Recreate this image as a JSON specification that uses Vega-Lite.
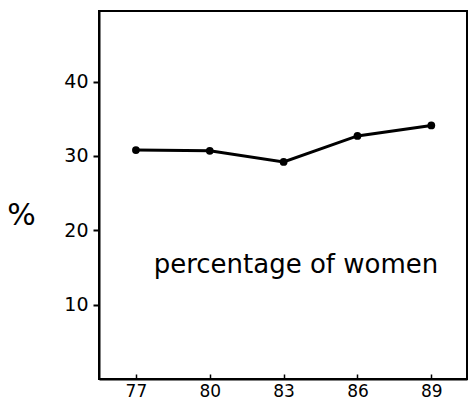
{
  "$schema": "https://vega.github.io/schema/vega-lite/v6.json",
  "width": 368,
  "height": 368,
  "autosize": {"type": "none"},
  "padding": {"left": 99, "top": 11, "right": 4, "bottom": 35},
  "background": "white",
  "config": {
    "view": {"stroke": "black", "strokeWidth": 2},
    "font": "DejaVu Sans"
  },
  "datasets": {
    "women": [
      {"year": 77, "pct": 30.8},
      {"year": 80, "pct": 30.7},
      {"year": 83, "pct": 29.2},
      {"year": 86, "pct": 32.7},
      {"year": 89, "pct": 34.1}
    ],
    "label": [
      {"year": 83.5, "pct": 15.4, "text": "percentage of women"}
    ]
  },
  "layer": [
    {
      "data": {"name": "women"},
      "mark": {"type": "line", "color": "black", "strokeWidth": 3, "point": {"filled": true, "color": "black", "size": 60}},
      "encoding": {
        "x": {
          "field": "year", "type": "quantitative",
          "scale": {"domain": [75.5, 90.45], "nice": false, "zero": false},
          "axis": {
            "values": [77, 80, 83, 86, 89], "title": null, "grid": false,
            "domainColor": "black", "domainWidth": 2,
            "tickColor": "black", "tickWidth": 1.5, "tickSize": -5,
            "labelColor": "black", "labelFontSize": 17, "labelPadding": 9
          }
        },
        "y": {
          "field": "pct", "type": "quantitative",
          "scale": {"domain": [0, 49.5], "nice": false},
          "axis": {
            "values": [10, 20, 30, 40], "grid": false,
            "title": "%", "titleAngle": 0, "titleFontSize": 30, "titleFontWeight": "normal",
            "titleX": -78, "titleY": 204, "titleAlign": "center", "titleBaseline": "middle",
            "titleColor": "black",
            "domainColor": "black", "domainWidth": 2,
            "tickColor": "black", "tickWidth": 2, "tickSize": 6,
            "labelColor": "black", "labelFontSize": 19, "labelPadding": 5
          }
        }
      }
    },
    {
      "data": {"name": "label"},
      "mark": {"type": "text", "fontSize": 26, "color": "black", "align": "center", "baseline": "middle"},
      "encoding": {
        "x": {"field": "year", "type": "quantitative"},
        "y": {"field": "pct", "type": "quantitative"},
        "text": {"field": "text"}
      }
    }
  ]
}
